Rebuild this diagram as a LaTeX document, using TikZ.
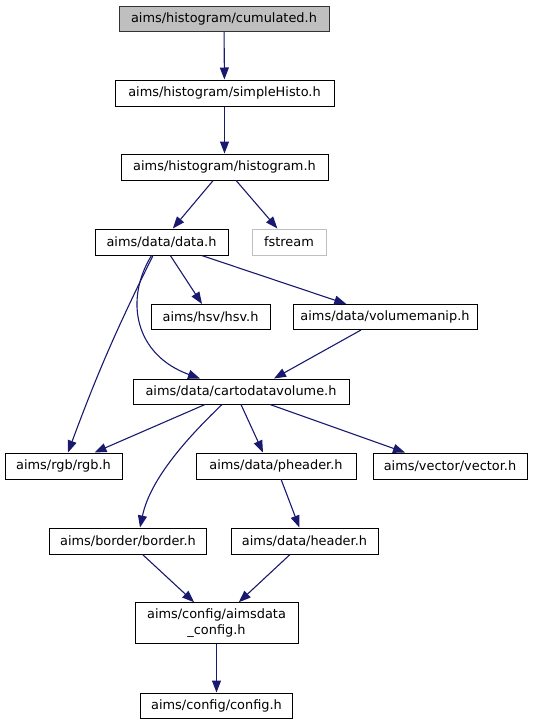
\documentclass[tikz,border=0pt]{standalone}
\usepackage{fontspec}
\setmainfont{DejaVu Sans}
\usetikzlibrary{arrows.meta,calc}
\definecolor{edgec}{HTML}{191970}
\definecolor{grayfill}{HTML}{BFBFBF}
\definecolor{boxline}{HTML}{000000}
\tikzset{
  hbox/.style={draw=boxline, line width=1pt, rectangle, inner sep=0pt, minimum height=25pt,
    font=\fontsize{12.9}{15.5}\selectfont, align=center, fill=white},
  curbox/.style={hbox, fill=grayfill, draw=black!80},
  extbox/.style={hbox, draw=grayfill},
  dep/.style={draw=edgec, line width=1.1pt, -{Triangle[length=12pt,width=9pt]}, shorten >=0pt}
}
\begin{document}
\begin{tikzpicture}[x=1pt,y=-1pt]
\useasboundingbox (0,0) rectangle (535,724);
\node[curbox, minimum width=210pt] (cum) at (224,18.5) {aims/histogram/cumulated.h};
\node[hbox, minimum width=219pt, minimum height=26pt] (simple) at (224.5,93) {aims/histogram/simpleHisto.h};
\node[hbox, minimum width=207pt, minimum height=26pt] (hist) at (224.5,167) {aims/histogram/histogram.h};
\node[hbox, minimum width=133pt, minimum height=26pt] (data) at (161.5,242) {aims/data/data.h};
\node[extbox, minimum width=74pt, minimum height=26pt] (fstream) at (289,242) {fstream};
\node[hbox, minimum width=119pt] (hsv) at (210.5,317) {aims/hsv/hsv.h};
\node[hbox, minimum width=184pt] (vm) at (385,317) {aims/data/volumemanip.h};
\node[hbox, minimum width=216pt] (cdv) at (241,391.5) {aims/data/cartodatavolume.h};
\node[hbox, minimum width=117pt, minimum height=26pt] (rgb) at (63.5,466) {aims/rgb/rgb.h};
\node[hbox, minimum width=160pt, minimum height=26pt] (ph) at (276,466) {aims/data/pheader.h};
\node[hbox, minimum width=154pt, minimum height=26pt] (vec) at (450,466) {aims/vector/vector.h};
\node[hbox, minimum width=157pt, minimum height=26pt] (border) at (128,541) {aims/border/border.h};
\node[hbox, minimum width=147pt, minimum height=26pt] (header) at (304.5,541) {aims/data/header.h};
\node[hbox, minimum width=163pt, minimum height=40.5pt] (adc) at (216.5,623) {aims/config/aimsdata\\\_config.h};
\node[hbox, minimum width=152pt] (config) at (216.5,705.5) {aims/config/config.h};

\draw[dep] (cum) -- (simple);
\draw[dep] (simple) -- (hist);
\draw[dep] (hist) -- (data);
\draw[dep] (hist) -- (fstream);
\draw[dep] ($(data.south)+(-8.5,0)$) to[bend right=3] ($(rgb.north)+(4.5,0)$);
\draw[dep] ($(data.south)+(-10,0)$) .. controls (124,300) and (135,355) .. ($(cdv.north)+(-41,0)$);
\draw[dep] (data) -- (hsv);
\draw[dep] (data) -- (vm);
\draw[dep] ($(vm.south)+(-24,0)$) -- ($(cdv.north)+(33,0)$);
\draw[dep] ($(cdv.south)+(-36,0)$) -- ($(rgb.north)+(31,0)$);
\draw[dep] ($(cdv.south)+(-19,0)$) .. controls (185,440) and (150,480) .. ($(border.north)+(12,0)$);
\draw[dep] ($(cdv.south)+(0,0)$) -- ($(ph.north)+(-13,0)$);
\draw[dep] ($(cdv.south)+(29,0)$) -- ($(vec.north)+(-45,0)$);
\draw[dep] (ph) -- (header);
\draw[dep] (border) -- (adc);
\draw[dep] (header) -- (adc);
\draw[dep] (adc) -- (config);
\end{tikzpicture}
\end{document}
